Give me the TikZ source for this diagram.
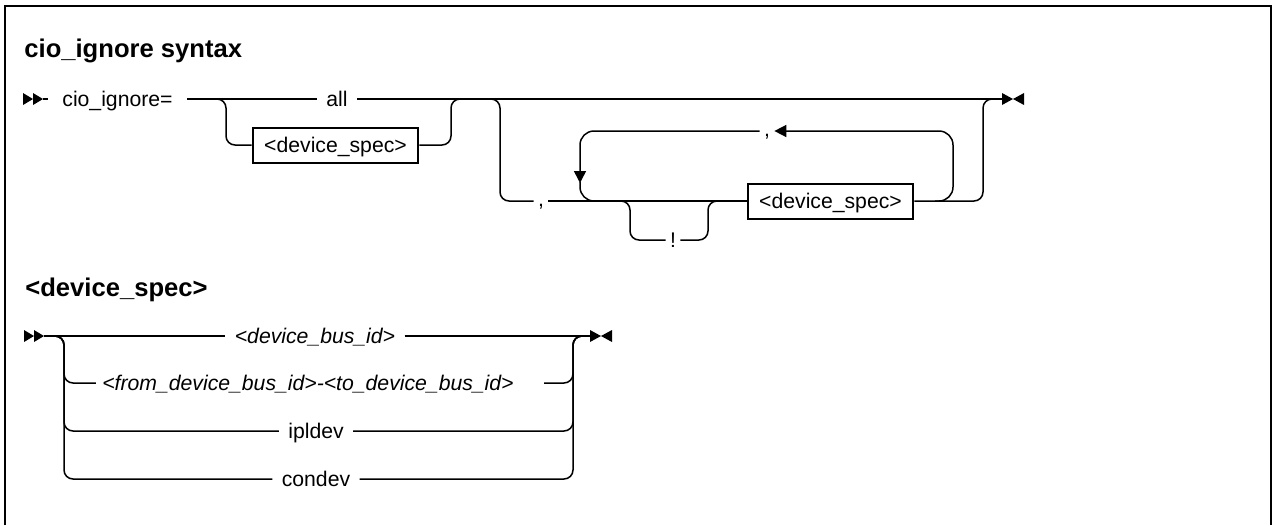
\documentclass[tikz,border=0pt]{standalone}
\usepackage{fontspec}
\setmainfont{Liberation Sans}
\usetikzlibrary{arrows.meta}
\begin{document}
\begin{tikzpicture}[x=0.5pt,y=-0.5pt,
  rrail/.style={line width=0.75pt, rounded corners=4.5pt},
  rloop/.style={line width=0.75pt, rounded corners=7pt},
  rtip/.style={-{Triangle[length=6pt,width=6pt]}},
  rlbl/.style={font=\fontsize{10.6}{12}\selectfont, inner ysep=0pt, inner xsep=4.5pt, text height=7.6pt, text depth=0pt},
  rilbl/.style={rlbl, font=\fontsize{10.6}{12}\selectfont\itshape},
  rcomma/.style={rlbl, inner xsep=2pt, text height=5pt},
  rbox/.style={draw, line width=1pt, font=\fontsize{10.6}{12}\selectfont, inner ysep=0pt, inner xsep=5.75pt, text height=7.6pt, text depth=0pt, minimum height=17.5pt},
  rhead/.style={font=\fontsize{12.8}{15}\selectfont\bfseries, inner sep=0pt, anchor=west},
  rmark/.style={fill=black}
]
\useasboundingbox (0,0) rectangle (1274,525);
% frame
\draw[line width=1pt] (5,525) -- (5,6) -- (1271,6) -- (1271,525);

% ---------- cio_ignore syntax ----------
\node[rhead] (t1) at (24,51) {cio\_ignore syntax};

% start marker
\fill[rmark] (23,93) -- (33,99) -- (23,105) -- cycle;
\fill[rmark] (33,93) -- (43,99) -- (33,105) -- cycle;
\coordinate (st1) at (43,99);
\node[rlbl, anchor=west, inner xsep=7pt] (cio) at (48,99) {cio\_ignore=};
\draw[rrail] (st1) -- (48,99);

\node[rlbl] (all) at (337,99) {all};
\node[rbox] (ds1) at (335.5,145) {<device\_spec>};
\coordinate (e1) at (1002,99);
\draw[rrail] (cio.east) -- (all.west);
\draw[rrail] (all.east) -- (e1);
% optional device_spec
\draw[rrail] (216,99) -- (226,99) -- (226,145) -- (ds1.west);
\draw[rrail] (ds1.east) -- (451,145) -- (451,99) -- (461,99);

% comma branch
\node[rcomma] (c1) at (541,201) {,};
\node[rbox] (ds2) at (830.5,201) {<device\_spec>};
\node[rlbl, inner xsep=2pt] (bang) at (673,240) {!};
\draw[rrail] (490,99) -- (500,99) -- (500,201) -- (c1.west);
\draw[rrail] (c1.east) -- (ds2.west);
\draw[rrail] (620,201) -- (630,201) -- (630,240) -- (bang.west);
\draw[rrail] (bang.east) -- (708,240) -- (708,201) -- (718,201);
\draw[rrail] (ds2.east) -- (983,201) -- (983,99) -- (993,99);

% repeat loop
\node[rcomma] (c2) at (767,131) {,};
\draw[rloop, rtip] (935,201) -- (953,201) -- (953,131) -- (c2.east);
\draw[rloop, rtip] (c2.west) -- (580,131) -- (580,183);
\draw[rloop] (580,182) -- (580,201) -- (598,201);

% end marker
\fill[rmark] (1002,93) -- (1013,99) -- (1002,105) -- cycle;
\fill[rmark] (1024,93) -- (1013,99) -- (1024,105) -- cycle;

% ---------- <device_spec> ----------
\node[rhead] (t2) at (25,290) {<device\_spec>};

\fill[rmark] (24,330) -- (34,336) -- (24,342) -- cycle;
\fill[rmark] (34,330) -- (44,336) -- (34,342) -- cycle;
\coordinate (st2) at (44,336);

\node[rilbl] (r1) at (315,336) {<device\_bus\_id>};
\node[rilbl, inner xsep=3pt] (r2) at (308,383) {<from\_device\_bus\_id>-<to\_device\_bus\_id>};
\node[rlbl] (r3) at (316,431) {ipldev};
\node[rlbl] (r4) at (316,479) {condev};
\coordinate (e2) at (590,336);

\draw[rrail] (st2) -- (r1.west);
\draw[rrail] (r1.east) -- (e2);
\draw[rrail] (53,336) -- (64,336) -- (64,383) -- (r2.west);
\draw[rrail] (53,336) -- (64,336) -- (64,431) -- (r3.west);
\draw[rrail] (53,336) -- (64,336) -- (64,479) -- (r4.west);
\draw[rrail] ([xshift=12pt]r2.east) -- (573,383) -- (573,336) -- (585,336);
\draw[rrail] (r3.east) -- (573,431) -- (573,336) -- (585,336);
\draw[rrail] (r4.east) -- (573,479) -- (573,336) -- (585,336);

\fill[rmark] (590,330) -- (601,336) -- (590,342) -- cycle;
\fill[rmark] (612,330) -- (601,336) -- (612,342) -- cycle;
\end{tikzpicture}
\end{document}
